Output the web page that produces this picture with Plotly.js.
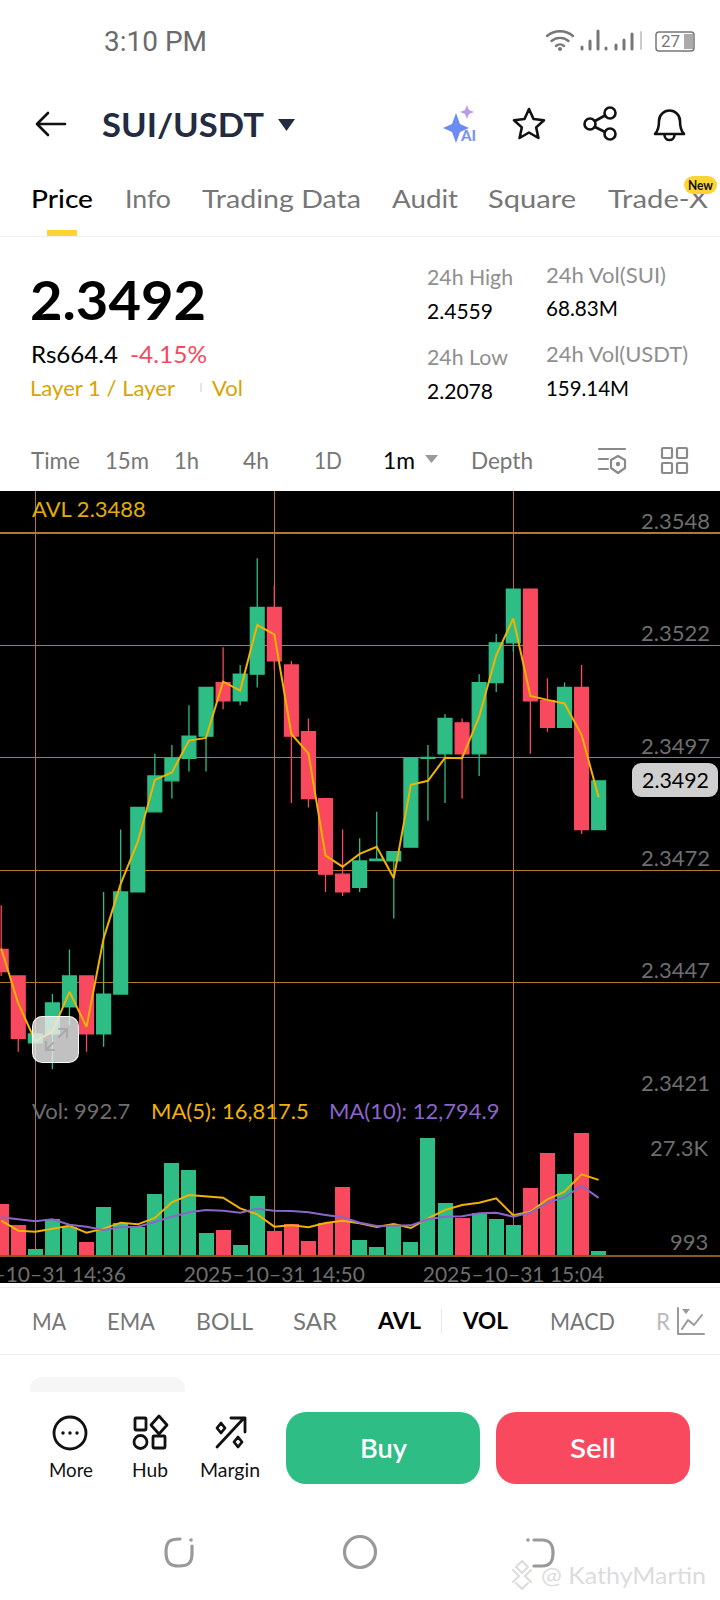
<!DOCTYPE html>
<html><head><meta charset="utf-8">
<script src="https://cdn.plot.ly/plotly-3.0.1.min.js"></script>
<style>
html,body{margin:0;padding:0;background:#fff;width:720px;height:1600px;overflow:hidden;font-family:Lato,sans-serif}
.t{position:absolute;white-space:nowrap;transform:translateY(-50%);transform-origin:left center;line-height:1}
svg.i{position:absolute;overflow:visible}
.box{position:absolute}
#chart{position:absolute;left:0;top:491px;width:720px;height:792px}
</style></head><body>
<div id="chart"></div>
<script>
const times=["14:34","14:35","14:36","14:37","14:38","14:39","14:40","14:41","14:42","14:43","14:44","14:45","14:46","14:47","14:48","14:49","14:50","14:51","14:52","14:53","14:54","14:55","14:56","14:57","14:58","14:59","15:00","15:01","15:02","15:03","15:04","15:05","15:06","15:07","15:08","15:09"];
const open=[2.34539,2.34479,2.34328,2.34348,2.34409,2.34479,2.34348,2.34438,2.34669,2.34850,2.34920,2.34971,2.35021,2.35142,2.35101,2.35161,2.35312,2.35182,2.35031,2.34880,2.34709,2.34679,2.34740,2.34739,2.34770,2.34971,2.34981,2.35051,2.34981,2.35142,2.35232,2.35353,2.35101,2.35041,2.35131,2.34810];
const high=[2.34639,2.34479,2.34348,2.34438,2.34539,2.34479,2.34669,2.34810,2.34860,2.34981,2.35001,2.35091,2.35131,2.35222,2.35182,2.35423,2.35362,2.35191,2.35061,2.34880,2.34810,2.34790,2.34850,2.34760,2.34971,2.35001,2.35071,2.35061,2.35161,2.35252,2.35353,2.35353,2.35152,2.35142,2.35182,2.34920];
const low=[2.34479,2.34308,2.34328,2.34269,2.34368,2.34308,2.34319,2.34438,2.34669,2.34850,2.34880,2.34941,2.34941,2.35082,2.35091,2.35131,2.35171,2.34870,2.34860,2.34669,2.34660,2.34669,2.34740,2.34609,2.34770,2.34830,2.34870,2.34880,2.34931,2.35121,2.35212,2.34981,2.35031,2.35041,2.34800,2.34810];
const close=[2.34489,2.34338,2.34348,2.34418,2.34479,2.34348,2.34438,2.34669,2.34860,2.34931,2.34970,2.35021,2.35131,2.35101,2.35161,2.35312,2.35191,2.35021,2.34880,2.34709,2.34669,2.34739,2.34743,2.34760,2.34971,2.34973,2.35061,2.34981,2.35142,2.35232,2.35353,2.35101,2.35041,2.35131,2.34810,2.34920];
const avl=[2.34541,2.34417,2.34332,2.34353,2.34443,2.34364,2.34564,2.34687,2.34782,2.34922,2.34939,2.35011,2.35017,2.35144,2.35124,2.35272,2.35251,2.35026,2.34982,2.34751,2.34726,2.34755,2.34771,2.34700,2.34911,2.34920,2.34972,2.34971,2.35065,2.35204,2.35287,2.35112,2.35103,2.35095,2.35024,2.34883];
const volume=[11350,6720,1269,7990,6347,2987,10827,7243,6198,13590,20684,19041,5003,5600,2240,13291,5302,6944,3136,7243,15307,3360,1867,6720,2837,26134,11574,8214,9483,7990,6795,15009,22924,18145,27329,992.7];
const ma5=[7691,5451,5227,5824,6571,5003,5899,7243,6870,8288,11798,13441,13067,12843,10454,9110,6347,6646,6198,7168,7691,7094,6272,6944,6048,8214,10080,11200,11723,12694,8886,9707,12470,14187,18070,16817.5];
const ma10=[8438,7915,7542,7990,6795,6347,5600,6198,6347,7392,8587,9558,10080,9931,9483,10379,9931,9856,9558,8960,8438,7243,6496,6571,6646,7990,8587,8662,9334,9483,8587,9483,11723,12918,15456,12794.9];
const priceTicks=[2.3548,2.35226,2.34972,2.34718,2.34464,2.3421];
const priceLabels=["2.3548","2.3522","2.3497","2.3472","2.3447","2.3421"];
const timeTicks=["14:36","14:50","15:04"];
const DAY="2025-10-31 ";
const x=times.map(t=>DAY+t);
const UP="#2EBD85",DN="#F8495F",AV="#F0B300",PU="#8A66C8",GR="#6e6e6e",GRID="#B47A28";
const volColors=close.map((c,i)=>c>=open[i]?UP:DN);
const data=[
 {type:"bar",x:x,y:volume,yaxis:"y",xaxis:"x",width:52800,marker:{color:volColors,line:{width:0}},hoverinfo:"skip"},
 {type:"scatter",mode:"lines",x:x,y:ma5,yaxis:"y",xaxis:"x",line:{color:AV,width:2},hoverinfo:"skip"},
 {type:"scatter",mode:"lines",x:x,y:ma10,yaxis:"y",xaxis:"x",line:{color:PU,width:2},hoverinfo:"skip"},
 {type:"candlestick",x:x,open:open,high:high,low:low,close:close,yaxis:"y2",xaxis:"x",whiskerwidth:0,
  increasing:{line:{color:UP,width:1.3},fillcolor:UP},decreasing:{line:{color:DN,width:1.3},fillcolor:DN},hoverinfo:"skip"},
 {type:"scatter",mode:"lines",x:x,y:avl,yaxis:"y2",xaxis:"x",line:{color:AV,width:2},hoverinfo:"skip"}
];
function note(text,px,py,color,extra){return Object.assign({text:text,xref:"paper",yref:"paper",x:px/720,y:(1255-py)/764,xanchor:"left",yanchor:"middle",showarrow:false,borderpad:0,font:{family:"Lato",size:22,color:color}},extra||{});}
const layout={
 width:720,height:792,margin:{l:0,r:0,t:0,b:28},paper_bgcolor:"#000",plot_bgcolor:"#000",showlegend:false,boxgap:0.19,boxgroupgap:0,bargap:0,
 font:{family:"Lato"},
 xaxis:{type:"date",range:[DAY+"14:33:55.8",DAY+"15:16:06.6"],rangeslider:{visible:false},tickmode:"array",tickvals:timeTicks.map(t=>DAY+t),ticktext:timeTicks.map(t=>"2025\u201310\u201331 "+t),
  showgrid:true,gridcolor:GRID,gridwidth:1,showline:true,linecolor:"#8A5A1E",linewidth:2,ticks:"",tickfont:{family:"Lato",size:21,color:GR},ticklabeloverflow:"allow",anchor:"y",zeroline:false,tickangle:0},
 yaxis:{domain:[0,0.20942],range:[0,35840],showgrid:false,showticklabels:false,zeroline:false,showline:false,ticks:""},
 yaxis2:{domain:[0.20942,1],range:[2.3421,2.35575],side:"right",anchor:"x",tickmode:"array",tickvals:priceTicks,ticktext:priceLabels,showgrid:true,gridcolor:GRID,gridwidth:1.2,zeroline:false,showline:false,ticks:"",ticklabelposition:"inside",ticklabeloverflow:"allow",ticklabelshift:-12,ticklabelstandoff:7,tickfont:{family:"Lato",size:22,color:GR}},
 annotations:[
  note("AVL 2.3488",31,509,"#E3AC0A"),
  note("Vol: 992.7",31,1110,GR),
  note("MA(5): 16,817.5",150,1110,AV),
  note("MA(10): 12,794.9",328,1110,PU),
  {text:"27.3K",xref:"paper",yref:"y",x:710/720,y:27300,xanchor:"right",yanchor:"middle",yshift:-14,showarrow:false,font:{family:"Lato",size:22,color:GR}},
  {text:"993",xref:"paper",yref:"y",x:710/720,y:993,xanchor:"right",yanchor:"middle",yshift:9,showarrow:false,font:{family:"Lato",size:22,color:GR}}
 ]
};
Plotly.newPlot("chart",data,layout,{staticPlot:true,displayModeBar:false});

/* page chrome: s, left, centre-y, size, colour, target width, weight, family */
function T(s,l,cy,size,color,tw,w,fam){const d=document.createElement("div");d.className="t";d.textContent=s;d.style.cssText=`left:${l}px;top:${cy}px;font-size:${size}px;color:${color};font-weight:${w||400};font-family:${fam||"Lato"}`;document.body.appendChild(d);
 if(tw){const r=tw/d.getBoundingClientRect().width;d.style.transform=`translateY(-50%) scaleX(${r})`;}return d;}
function B(l,t,w,h,bg,r,extra){const d=document.createElement("div");d.className="box";d.style.cssText=`left:${l}px;top:${t}px;width:${w}px;height:${h}px;background:${bg};border-radius:${r||0}px;${extra||""}`;document.body.appendChild(d);return d;}
function S(l,t,w,h,inner){const n=document.createElement("div");n.innerHTML=`<svg class="i" style="left:${l}px;top:${t}px" width="${w}" height="${h}" viewBox="0 0 ${w} ${h}" fill="none" stroke-linecap="round" stroke-linejoin="round">${inner}</svg>`;document.body.appendChild(n.firstChild);}
const G="#767676",G2="#8f8f8f";
T("3:10 PM",104,41.500,27,"#6b6b6b",103,400,"Roboto");
S(546,28,150,24,`<path d="M1 8a20 20 0 0 1 26 0M5.5 13a13 13 0 0 1 17 0M10 18a6 6 0 0 1 8 0" stroke="#777" stroke-width="2.4"/><circle cx="14" cy="21" r="2" fill="#777"/>
<path d="M36 21v-2M44 21v-8M52 21V3M60 21v-1M70 21v-4M78 21v-9M86 21V6" stroke="#777" stroke-width="3"/><path d="M95 21V4" stroke="#ccc" stroke-width="2"/>
<rect x="110" y="4" width="38" height="19" rx="3" stroke="#777" stroke-width="1.5"/><rect x="138" y="6" width="9" height="15" fill="#aaa"/>`);
T("27",661,41,17,"#777",0,400,"Roboto");
S(34,106,34,36,`<path d="M31 18H3M14 7 3 18l11 11" stroke="#111" stroke-width="2.6"/>`);
T("SUI/USDT",102,124,33,"#222B3F",162,700);
S(278,118,18,14,`<path d="M0 1h17l-8.5 12z" fill="#222B3F"/>`);
S(441,105,34,40,`<path d="M15 10 19 21l9 4-9 4-4 11-4-11-9-4 9-4z" fill="#6B8CF5" transform="translate(0 -2)"/><path d="M26 0l2 5 5 2-5 2-2 5-2-5-5-2 5-2z" fill="#B79BE8"/>`);
T("AI",461,135,15,"#7C93F2",0,900);
S(512,106,36,36,`<path d="M17 3l4.5 10 10.5 1.2-7.8 7.2 2.2 10.6L17 26.5 7.6 32l2.2-10.6L2 14.2 12.5 13z" stroke="#111" stroke-width="2.6"/>`);
S(583,106,36,36,`<circle cx="7" cy="18" r="5.5" stroke="#111" stroke-width="2.6"/><circle cx="27" cy="7" r="5.5" stroke="#111" stroke-width="2.6"/><circle cx="27" cy="28" r="5.5" stroke="#111" stroke-width="2.6"/><path d="M12 15 22 9.5M12 21l10 5" stroke="#111" stroke-width="2.6"/>`);
S(652,105,36,38,`<path d="M3 29c3-3 4-6 4-13a10.500 10.500 0 0 1 21 0c0 7 1 10 4 13z" stroke="#111" stroke-width="2.6"/><path d="M12.500 30a5 5 0 0 0 10 0" stroke="#111" stroke-width="2.6"/>`);
T("Price",31,198,25,"#000",62,500);
T("Info",125,198,25,G,46);T("Trading Data",202,198,25,G,159);T("Audit",392,198,25,G,66);T("Square",488,198,25,G,88);T("Trade-X",608,198,25,G,100);
B(684,176,33,18,"#FCD535",9);T("New",688,185.500,12.500,"#111",25,700);
B(47,230,30,6,"#FCD535");B(0,236,720,1,"#eee");
T("2.3492",30,299.500,54,"#000",176,700);
T("Rs664.4",31,355,22.500,"#000",87);T("-4.15%",130,355,22.500,"#F8495F",77);
T("Layer 1 / Layer",30,386.500,21,"#D9A400",145);B(200,383,1.500,9,"#e6e6e6");T("Vol",212,386.500,21,"#D9A400",31);
T("24h High",427,278,21.500,G2,86);T("2.4559",427,309.500,21,"#000",66);T("24h Low",427,358,21.500,G2,81);T("2.2078",427,390,21,"#000",66);
T("24h Vol(SUI)",546,276,21.500,G2,120);T("68.83M",546,306.500,21,"#000",72);T("24h Vol(USDT)",546,355,21.500,G2,142);T("159.14M",546,387,21,"#000",83);
T("Time",31,460.500,22.500,G,49);T("15m",105,460.500,22.500,G,44);T("1h",174,460.500,22.500,G,25);T("4h",243,460.500,22.500,G,26);T("1D",314,460.500,22.500,G,28);T("1m",383,460.500,22.500,"#000",32);T("Depth",471,460.500,22.500,G,62);
S(425,455,14,9,`<path d="M0 0h13l-6.500 8z" fill="#999"/>`);
S(598,447,30,29,`<path d="M1 2h26M1 12h9M1 22h9" stroke="#8a8a8a" stroke-width="2.2"/><path d="M20 9l7 4v8l-7 5-7-5v-8z" stroke="#8a8a8a" stroke-width="2.2"/><circle cx="20" cy="17" r="2.200" fill="#8a8a8a"/>`);
S(661,447,28,28,`<g stroke="#8a8a8a" stroke-width="2.2"><rect x="1" y="1" width="10" height="10" rx="1"/><rect x="16" y="1" width="10" height="10" rx="1"/><rect x="1" y="16" width="10" height="10" rx="1"/><rect x="16" y="16" width="10" height="10" rx="1"/></g>`);
/* overlays on the chart */
B(632,763,86,34,"#CFCFCF",9);T("2.3492",642,780,22,"#000",67);
B(32,1016,47,47,"rgba(235,235,235,.82)",10,"box-sizing:border-box;border:1.500px solid rgba(255,255,255,.9)");
S(32,1016,47,47,`<path d="M14 34 21 27M14 34v-8M14 34h8M35 13l-8 8M35 13h-8M35 13v8" stroke="#aaa" stroke-width="2.200"/>`);
/* indicator row */
B(0,1287,720,1,"#eee");
[["MA",32,34],["EMA",107,48],["BOLL",196,57],["SAR",293,44],["MACD",550,65]].forEach(a=>T(a[0],a[1],1322,23.500,G,a[2]));
T("AVL",378,1321,23.500,"#000",43,700);T("VOL",463,1321,23.500,"#000",45,700);B(441,1309,1,24,"#e6e6e6");T("R",656,1322,23.500,"#bbb",14);
S(676,1307,29,29,`<path d="M2 1v26h26" stroke="#999" stroke-width="2"/><path d="M6 22l6-9 6 5 8-10" stroke="#999" stroke-width="2"/><path d="M6 2h8l-4 5z" fill="#999"/>`);
B(0,1354,720,1,"#eee");
B(30,1377,155,15,"#f6f6f6",12,"border-bottom-left-radius:0;border-bottom-right-radius:0");
S(52,1415,36,36,`<circle cx="18" cy="18" r="16" stroke="#111" stroke-width="2.800"/><circle cx="11" cy="18" r="1.700" fill="#111"/><circle cx="18" cy="18" r="1.700" fill="#111"/><circle cx="25" cy="18" r="1.700" fill="#111"/>`);
S(133,1415,36,36,`<g stroke="#111" stroke-width="2.800"><rect x="2" y="3" width="11" height="12" rx="1"/><path d="M26 1l8 9-8 9-8-9z"/><ellipse cx="7.500" cy="27" rx="6.500" ry="6.500"/><rect x="20" y="21" width="12" height="12" rx="1"/></g>`);
S(214,1415,36,36,`<g stroke="#111" stroke-width="2.800"><path d="M3 32 30 3M17 3h14v14"/><path d="M7 8l4 5-4 5-4-5zM24 22l4 5-4 5-4-5z"/></g>`);
T("More",49,1469,20,"#111",44);T("Hub",132,1469,20,"#111",36);T("Margin",200,1469,20,"#111",60);
B(286,1412,194,72,"#2EBD85",20);B(496,1412,194,72,"#F8495F",20);
T("Buy",360,1448,26,"#fff",47,600);T("Sell",570,1448,26,"#fff",46,600);
S(164,1536,34,34,`<path d="M16 3C6 3 2 5 2 16c0 11 4 14 13 14s13-3 13-12V10" stroke="#999" stroke-width="3.200"/><circle cx="27" cy="4" r="1.800" fill="#999"/>`);
S(342,1534,36,36,`<ellipse cx="18" cy="18" rx="15.500" ry="15.500" stroke="#999" stroke-width="3.200"/>`);
S(524,1536,34,34,`<path d="M10 4h8c8 0 11 4 11 13s-3 13-11 13h-8" stroke="#999" stroke-width="3.200"/><circle cx="4" cy="4" r="1.800" fill="#999"/>`);
S(507,1559,30,32,`<path d="M15 2l6 6-6 6-6-6zM6 11l6 6-6 6M24 11l-6 6 6 6M9 24l6 6 6-6" stroke="#ddd" stroke-width="2.200"/>`);
T("@ KathyMartin",541,1575,24,"#dcdcdc",165);
</script>
</body></html>
